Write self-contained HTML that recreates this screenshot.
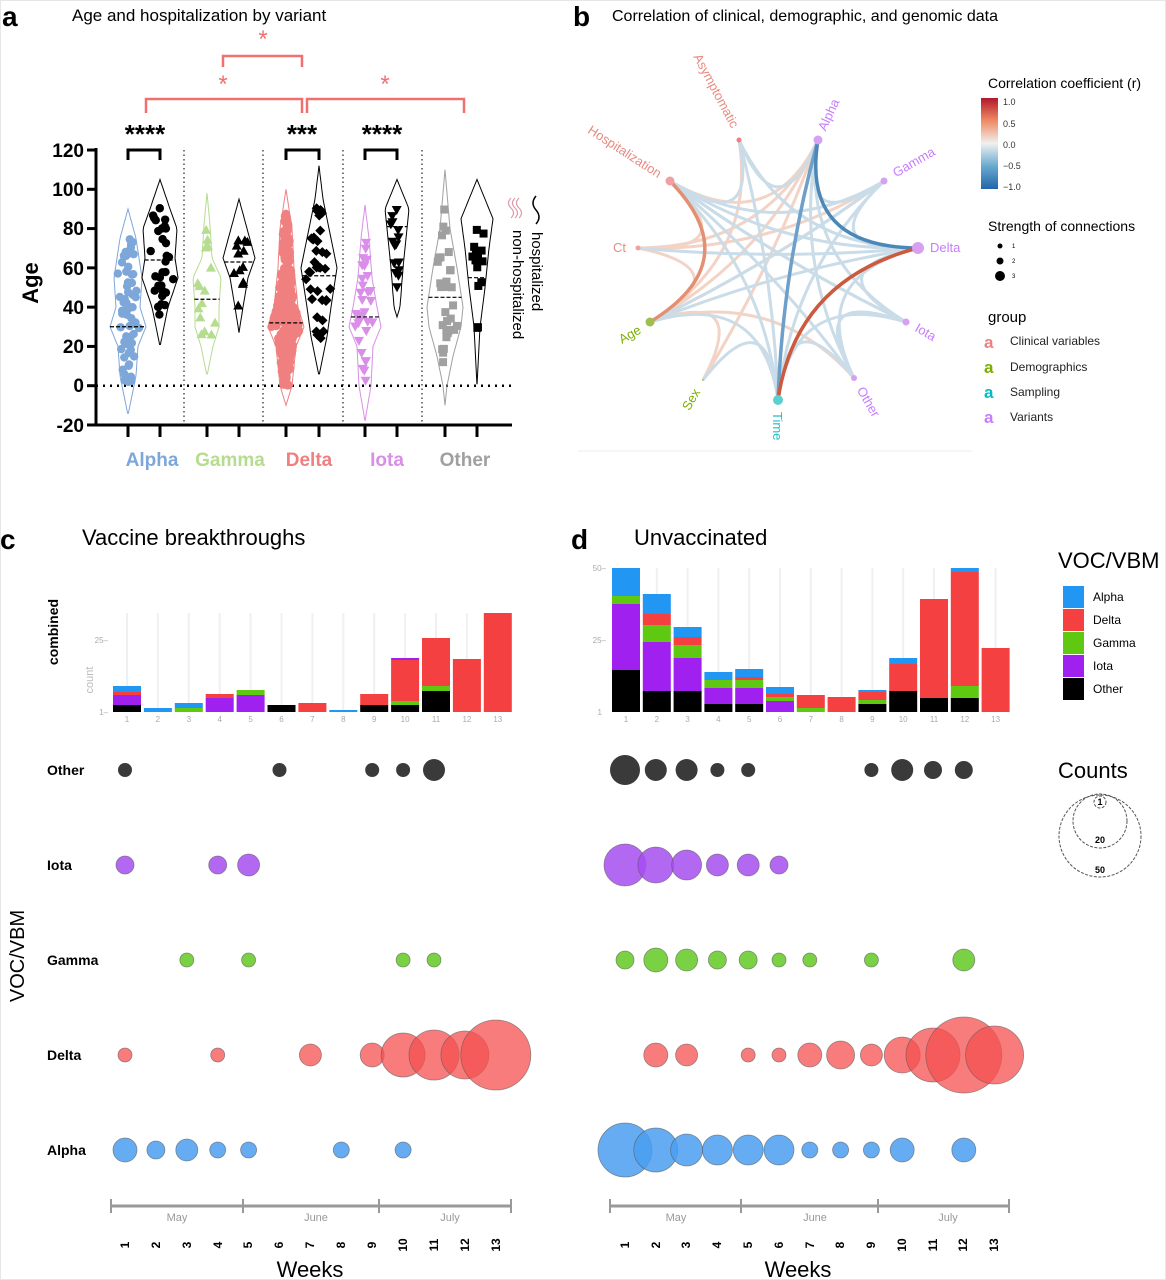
<!DOCTYPE html>
<html><head><meta charset="utf-8"><style>
html,body{margin:0;padding:0;background:#fff;}
svg{display:block;font-family:"Liberation Sans",Arial,sans-serif;}
</style></head><body>
<svg id="s" width="1166" height="1280" viewBox="0 0 1166 1280" xmlns="http://www.w3.org/2000/svg">
<rect x="0" y="0" width="1166" height="1280" fill="#fff"/>
<rect x="0.5" y="0.5" width="1165" height="1279" fill="none" stroke="#e6e6e6"/>
<g id="gA"></g>
<g id="gB"></g>
<g id="gC"></g>
<!-- Panel a text -->
<text x="2" y="26" font-size="28" font-weight="bold">a</text>
<text x="72" y="21" font-size="17">Age and hospitalization by variant</text>
<g font-size="19" font-weight="bold" text-anchor="end">
<text x="84" y="157">120</text><text x="84" y="196">100</text><text x="84" y="235">80</text><text x="84" y="275">60</text><text x="84" y="314">40</text><text x="84" y="353">20</text><text x="84" y="392">0</text><text x="84" y="432">-20</text>
</g>
<text transform="translate(38,283) rotate(-90)" font-size="22" font-weight="bold" text-anchor="middle">Age</text>
<g font-size="19" font-weight="bold" text-anchor="middle">
<text x="152" y="466" fill="#7da7d9">Alpha</text>
<text x="230" y="466" fill="#b5dc8f">Gamma</text>
<text x="309" y="466" fill="#f08080">Delta</text>
<text x="387" y="466" fill="#d98ee8">Iota</text>
<text x="465" y="466" fill="#a0a0a0">Other</text>
</g>
<g font-size="26" font-weight="bold" text-anchor="middle">
<text x="145" y="143">****</text><text x="302" y="143">***</text><text x="382" y="143">****</text>
</g>
<g font-size="24" fill="#f07070" text-anchor="middle">
<text x="263" y="47">*</text><text x="223" y="92">*</text><text x="385" y="92">*</text>
</g>
<text transform="translate(532,232) rotate(90)" font-size="15">hospitalized</text>
<text transform="translate(513,230) rotate(90)" font-size="15">non-hospitalized</text>

<!-- Panel b text -->
<text x="573" y="26" font-size="28" font-weight="bold">b</text>
<text x="612" y="21" font-size="16">Correlation of clinical, demographic, and genomic data</text>
<g font-size="13">
<text transform="translate(735,127) rotate(62)" text-anchor="end" fill="#e88a80" dy="4">Asymptomatic</text>
<text transform="translate(660,175) rotate(33)" text-anchor="end" fill="#e88a80" dy="4">Hospitalization</text>
<text x="626" y="252" text-anchor="end" fill="#e88a80">Ct</text>
<text transform="translate(640,329) rotate(-30)" text-anchor="end" fill="#7cae00" dy="4">Age</text>
<text transform="translate(697,390) rotate(-60)" text-anchor="end" fill="#7cae00" dy="4">Sex</text>
<text transform="translate(773,412) rotate(90)" text-anchor="start" fill="#22c0c4">Time</text>
<text transform="translate(860,388) rotate(60)" text-anchor="start" fill="#c77cff" dy="4">Other</text>
<text transform="translate(916,327) rotate(30)" text-anchor="start" fill="#c77cff" dy="4">Iota</text>
<text x="930" y="252" text-anchor="start" fill="#c77cff">Delta</text>
<text transform="translate(894,174) rotate(-30)" text-anchor="start" fill="#c77cff" dy="4">Gamma</text>
<text transform="translate(822,130) rotate(-65)" text-anchor="start" fill="#c77cff" dy="4">Alpha</text>
</g>
<text x="988" y="88" font-size="14">Correlation coefficient (r)</text>
<defs><linearGradient id="cb" x1="0" y1="0" x2="0" y2="1">
<stop offset="0" stop-color="#b2182b"/><stop offset="0.25" stop-color="#ef8a62"/><stop offset="0.5" stop-color="#f0f0f0"/><stop offset="0.75" stop-color="#67a9cf"/><stop offset="1" stop-color="#2166ac"/></linearGradient></defs>
<rect x="981" y="98" width="17" height="91" fill="url(#cb)"/>
<g font-size="9" fill="#333"><text x="1003" y="105">1.0</text><text x="1003" y="127">0.5</text><text x="1003" y="148">0.0</text><text x="1003" y="169">−0.5</text><text x="1003" y="190">−1.0</text></g>
<text x="988" y="231" font-size="14">Strength of connections</text>
<circle cx="1000" cy="246" r="2.5" fill="#000"/><circle cx="1000" cy="261" r="3.5" fill="#000"/><circle cx="1000" cy="276" r="5" fill="#000"/>
<g font-size="6"><text x="1012" y="248">1</text><text x="1012" y="263">2</text><text x="1012" y="278">3</text></g>
<text x="988" y="322" font-size="15">group</text>
<g font-size="17" font-weight="bold"><text x="984" y="348" fill="#f08080">a</text><text x="984" y="373" fill="#7cae00">a</text><text x="984" y="398" fill="#00bfc4">a</text><text x="984" y="423" fill="#c77cff">a</text></g>
<g font-size="12" fill="#222"><text x="1010" y="345">Clinical variables</text><text x="1010" y="371">Demographics</text><text x="1010" y="396">Sampling</text><text x="1010" y="421">Variants</text></g>
<line x1="578" y1="451" x2="972" y2="451" stroke="#eee"/>

<!-- Panel c/d text -->
<text x="0" y="549" font-size="28" font-weight="bold">c</text>
<text x="82" y="545" font-size="22">Vaccine breakthroughs</text>
<text x="571" y="549" font-size="28" font-weight="bold">d</text>
<text x="634" y="545" font-size="22">Unvaccinated</text>
<text transform="translate(58,632) rotate(-90)" font-size="14" font-weight="bold" text-anchor="middle">combined</text>
<text transform="translate(93,680) rotate(-90)" font-size="11" fill="#bbb" text-anchor="middle">count</text>
<g font-size="8" fill="#aaa" text-anchor="end"><text x="108" y="643">25–</text><text x="108" y="715">1–</text>
<text x="606" y="571">50–</text><text x="606" y="643">25–</text><text x="602" y="715">1</text></g>
<text x="1058" y="568" font-size="22">VOC/VBM</text>
<g><rect x="1063" y="586" width="21" height="22" fill="#2196f3"/><rect x="1063" y="609" width="21" height="22" fill="#f44040"/><rect x="1063" y="632" width="21" height="22" fill="#5ec910"/><rect x="1063" y="655" width="21" height="22" fill="#a020f0"/><rect x="1063" y="678" width="21" height="22" fill="#000"/></g>
<g font-size="12"><text x="1093" y="601">Alpha</text><text x="1093" y="624">Delta</text><text x="1093" y="647">Gamma</text><text x="1093" y="670">Iota</text><text x="1093" y="693">Other</text></g>
<text x="1058" y="778" font-size="22">Counts</text>
<g fill="none" stroke="#555" stroke-dasharray="3,1.5"><circle cx="1100" cy="836" r="41"/><circle cx="1100" cy="821" r="27"/><circle cx="1100" cy="802" r="6"/></g>
<g font-size="9" font-weight="bold" text-anchor="middle"><text x="1100" y="805">1</text><text x="1100" y="843">20</text><text x="1100" y="873">50</text></g>
<g font-size="14" font-weight="bold"><text x="47" y="775">Other</text><text x="47" y="870">Iota</text><text x="47" y="965">Gamma</text><text x="47" y="1060">Delta</text><text x="47" y="1155">Alpha</text></g>
<text transform="translate(24,956) rotate(-90)" font-size="20" text-anchor="middle">VOC/VBM</text>
<g font-size="11" fill="#999" text-anchor="middle"><text x="177" y="1221">May</text><text x="316" y="1221">June</text><text x="450" y="1221">July</text>
<text x="676" y="1221">May</text><text x="815" y="1221">June</text><text x="948" y="1221">July</text></g>
<g font-size="12" font-weight="bold" text-anchor="middle">
<text transform="translate(129,1245) rotate(-90)">1</text><text transform="translate(160,1245) rotate(-90)">2</text><text transform="translate(191,1245) rotate(-90)">3</text><text transform="translate(222,1245) rotate(-90)">4</text><text transform="translate(252,1245) rotate(-90)">5</text><text transform="translate(283,1245) rotate(-90)">6</text><text transform="translate(314,1245) rotate(-90)">7</text><text transform="translate(345,1245) rotate(-90)">8</text><text transform="translate(376,1245) rotate(-90)">9</text><text transform="translate(407,1245) rotate(-90)">10</text><text transform="translate(438,1245) rotate(-90)">11</text><text transform="translate(469,1245) rotate(-90)">12</text><text transform="translate(500,1245) rotate(-90)">13</text>
<text transform="translate(629,1245) rotate(-90)">1</text><text transform="translate(660,1245) rotate(-90)">2</text><text transform="translate(690,1245) rotate(-90)">3</text><text transform="translate(721,1245) rotate(-90)">4</text><text transform="translate(752,1245) rotate(-90)">5</text><text transform="translate(783,1245) rotate(-90)">6</text><text transform="translate(814,1245) rotate(-90)">7</text><text transform="translate(844,1245) rotate(-90)">8</text><text transform="translate(875,1245) rotate(-90)">9</text><text transform="translate(906,1245) rotate(-90)">10</text><text transform="translate(937,1245) rotate(-90)">11</text><text transform="translate(967,1245) rotate(-90)">12</text><text transform="translate(998,1245) rotate(-90)">13</text>
</g>
<g font-size="22" text-anchor="middle"><text x="310" y="1277">Weeks</text><text x="798" y="1277">Weeks</text></g>
</svg>
<script>
var NS="http://www.w3.org/2000/svg";
function el(p,t,a){var e=document.createElementNS(NS,t);for(var k in a)e.setAttribute(k,a[k]);p.appendChild(e);return e;}
var A=document.getElementById("gA"),B=document.getElementById("gB"),C=document.getElementById("gC");
var seed=7;function rnd(){seed=(seed*16807)%2147483647;return seed/2147483647;}
function yA(v){return 385.7-v*1.964;}
[184,263,343,422].forEach(function(x){el(A,"line",{x1:x,y1:150,x2:x,y2:425,stroke:"#333","stroke-dasharray":"1.5,3","stroke-width":1.3});});
el(A,"line",{x1:96,y1:yA(0),x2:512,y2:yA(0),stroke:"#000","stroke-dasharray":"2,5","stroke-width":2.5});
var V=[
[128,"#7da7d9",[[90,0],[75,8],[55,14],[40,12],[30,18],[20,10],[5,8],[-15,0]],[0,75],"c",60,30],
[160,"#000",[[105,0],[90,10],[80,17],[65,15],[55,18],[40,8],[20,0]],[36,91],"c",30,64],
[207,"#b5dc8f",[[98,0],[82,3],[65,5],[55,14],[40,12],[30,12],[20,6],[5,0]],[23,82],"t",15,44],
[239,"#000",[[95,0],[80,8],[65,16],[55,9],[40,4],[27,0]],[39,82],"t",12,63],
[286,"#f08080",[[100,0],[80,6],[60,8],[40,12],[30,18],[20,10],[0,6],[-10,0]],[0,88],"c",300,32],
[319,"#000",[[112,0],[95,4],[80,10],[60,18],[40,12],[25,8],[5,0]],[22,96],"d",35,56],
[365,"#d98ee8",[[92,0],[75,4],[55,7],[40,12],[30,16],[20,8],[0,6],[-18,0]],[1,75],"v",30,35],
[397,"#000",[[105,0],[90,12],[80,10],[60,6],[40,3],[35,0]],[50,90],"v",15,81],
[445,"#a0a0a0",[[110,0],[80,5],[60,12],[40,18],[30,16],[15,8],[0,2],[-10,0]],[10,90],"s",30,45],
[477,"#000",[[105,0],[85,16],[70,12],[50,8],[30,3],[0,0]],[23,83],"s",14,55]];
function hw(p,v){for(var i=0;i<p.length-1;i++){if(v<=p[i][0]&&v>=p[i+1][0]){var t=(p[i][0]-v)/(p[i][0]-p[i+1][0]);return p[i][1]+(p[i+1][1]-p[i][1])*t;}}return 0;}
V.forEach(function(o){var x=o[0],c=o[1],p=o[2],L=[],R=[];
 for(var v=p[0][0];v>=p[p.length-1][0];v-=2){var w=hw(p,v);L.push((x-w).toFixed(1)+","+yA(v).toFixed(1));R.unshift((x+w).toFixed(1)+","+yA(v).toFixed(1));}
 el(A,"polygon",{points:L.concat(R).join(" "),fill:"none",stroke:c,"stroke-width":1});
 var n=o[5],lo=o[3][0],hi=o[3][1];
 for(var i=0;i<n;i++){var v,w;do{v=lo+rnd()*(hi-lo);w=hw(p,v);}while(rnd()*20>w+2);
  var px=x+(rnd()*2-1)*Math.max(w-3,1),py=yA(v),r=4.2;
  if(o[4]=="c")el(A,"circle",{cx:px,cy:py,r:r,fill:c});
  else if(o[4]=="t")el(A,"polygon",{points:(px)+","+(py-5)+" "+(px-5)+","+(py+4)+" "+(px+5)+","+(py+4),fill:c});
  else if(o[4]=="v")el(A,"polygon",{points:(px)+","+(py+5)+" "+(px-5)+","+(py-4)+" "+(px+5)+","+(py-4),fill:c});
  else if(o[4]=="d")el(A,"polygon",{points:px+","+(py-5)+" "+(px+5)+","+py+" "+px+","+(py+5)+" "+(px-5)+","+py,fill:c});
  else el(A,"rect",{x:px-4,y:py-4,width:8,height:8,fill:c});}
 var m=o[6],mw=hw(p,m);el(A,"line",{x1:x-mw,y1:yA(m),x2:x+mw,y2:yA(m),stroke:"#000","stroke-dasharray":"4,2","stroke-width":1.2});
});
el(A,"line",{x1:96,y1:148,x2:96,y2:426,stroke:"#000","stroke-width":3});
el(A,"line",{x1:95,y1:425,x2:512,y2:425,stroke:"#000","stroke-width":3});
[120,100,80,60,40,20,0,-20].forEach(function(v){el(A,"line",{x1:87,y1:yA(v),x2:96,y2:yA(v),stroke:"#000","stroke-width":3});});
[128,160,207,239,286,319,365,397,445,477].forEach(function(x){el(A,"line",{x1:x,y1:425,x2:x,y2:437,stroke:"#000","stroke-width":3});});
[[128,160],[286,319],[365,397]].forEach(function(b){el(A,"polyline",{points:b[0]+",160 "+b[0]+",150 "+b[1]+",150 "+b[1]+",160",fill:"none",stroke:"#000","stroke-width":3});});
el(A,"polyline",{points:"223,67 223,56 302,56 302,67",fill:"none",stroke:"#f07070","stroke-width":2.5});
el(A,"polyline",{points:"146,113 146,99 302,99 302,113",fill:"none",stroke:"#f07070","stroke-width":2.5});
el(A,"polyline",{points:"307,113 307,99 464,99 464,113",fill:"none",stroke:"#f07070","stroke-width":2.5});
el(A,"path",{d:"M511,198 q-5,5 0,10 q5,5 0,10 M515,198 q-5,5 0,10 q5,5 0,10 M519,198 q-5,5 0,10 q5,5 0,10",fill:"none",stroke:"#d9a","stroke-width":1.2});
el(A,"path",{d:"M536,196 q-6,7 0,14 q6,7 0,14",fill:"none",stroke:"#000","stroke-width":1.5});

var N={As:[739,140],Al:[818,140],Ga:[884,181],De:[918,248],Io:[906,322],Ot:[854,378],Ti:[778,400],Se:[703,380],Ag:[650,322],Ct:[638,248],Ho:[670,181]};
var cx=778,cy=265;
var E=[["As","Ho","b"],["As","Ti","b"],["As","Ag","p"],["As","De","b"],["As","Al","b"],["Al","Ga","b"],["Al","Ct","p"],["Al","Ag","p"],["Al","Ti","B"],["Al","De","D"],["Al","Io","b"],["Ga","De","b"],["Ga","Ag","p"],["Ga","Ti","b"],["Ga","Ho","b"],["De","Io","b"],["De","Ot","b"],["De","Ti","R"],["De","Ct","b"],["De","Ag","b"],["De","Ho","b"],["Io","Ot","b"],["Io","Ti","b"],["Io","Ho","b"],["Ot","Ti","b"],["Ot","Ag","p"],["Ot","Al","b"],["Ti","Ag","b"],["Ti","Ho","b"],["Ti","Se","b"],["Se","Ag","p"],["Se","Al","p"],["Ag","Ct","p"],["Ag","Ho","O"],["Ag","Ga","b"],["Ct","Ho","p"],["Ct","Ga","p"],["Ho","Io","b"],["Ho","Al","p"],["Ho","Ot","b"]];
var col={b:"#c9dce8",p:"#f2d3c5",B:"#6d9fc8",D:"#4b88b8",R:"#cc5a3e",O:"#e39072"};
E.sort(function(a,b){return "bp".indexOf(b[2])-"bp".indexOf(a[2]);});
E.forEach(function(e){var a=N[e[0]],b=N[e[1]];var mx=(a[0]+b[0])/2,my=(a[1]+b[1])/2;var k=0.75;var qx=mx+(cx-mx)*k,qy=my+(cy-my)*k;
 el(B,"path",{d:"M"+a[0]+","+a[1]+" Q"+qx+","+qy+" "+b[0]+","+b[1],fill:"none",stroke:col[e[2]],"stroke-width":(e[2]=="b"||e[2]=="p")?3:3.5});});
var NC={As:["#f08080",2.5],Al:["#d7a0f0",4.5],Ga:["#d7a0f0",3.5],De:["#d7a0f0",6],Io:["#d7a0f0",3.5],Ot:["#d7a0f0",3],Ti:["#5cd0d0",5],Se:["#a8c860",1],Ag:["#9bc050",4.5],Ct:["#f0a0a0",2.5],Ho:["#f0a0a0",4.5]};
for(var k in N)el(B,"circle",{cx:N[k][0],cy:N[k][1],r:NC[k][1],fill:NC[k][0]});

var CL={b:"#2196f3",r:"#f44040",g:"#5ec910",p:"#a020f0",k:"#000"};
function bars(x0,step,top,data){
 for(var i=0;i<13;i++)el(C,"line",{x1:x0+i*step,y1:top,x2:x0+i*step,y2:712,stroke:"#f0f0f0","stroke-width":2});
 data.forEach(function(st,i){var x=x0+i*step-14,y=712;st.forEach(function(s){el(C,"rect",{x:x,y:s[1],width:28,height:y-s[1],fill:CL[s[0]]});y=s[1];});
  el(C,"text",{x:x0+i*step,y:722,"font-size":8,fill:"#aaa","text-anchor":"middle"}).textContent=""+(i+1);});
}
bars(127,30.9,613,[[["k",705],["p",695],["r",692],["b",686]],[["b",708]],[["g",708],["b",703]],[["p",698],["r",694]],[["p",695],["g",690]],[["k",705]],[["r",703]],[["b",710]],[["k",705],["r",694]],[["k",705],["g",701],["r",660],["p",658]],[["k",691],["g",686],["r",638]],[["r",659]],[["r",613]]]);
bars(626,30.8,568,[[["k",670],["p",604],["g",596],["b",568]],[["k",691],["p",642],["g",625],["r",614],["b",594]],[["k",691],["p",658],["g",645],["r",637],["b",627]],[["k",704],["p",688],["g",680],["b",672]],[["k",704],["p",688],["g",680],["r",677],["b",669]],[["p",701],["g",697],["r",694],["b",687]],[["g",708],["r",695]],[["r",697]],[["k",704],["g",700],["r",692],["b",690]],[["k",691],["r",664],["b",658]],[["k",698],["r",599]],[["k",698],["g",686],["r",572],["b",568]],[["r",648]]]);
var BC={o:["#3a3a3a",1],i:["#a64df0",0.85],g:["#6ccc30",0.9],d:["#f55050",0.75],a:["#4a9ef0",0.85]};
var RY={o:770,i:865,g:960,d:1055,a:1150};
function bub(x0,step,rows){for(var k in rows)rows[k].forEach(function(b){el(C,"circle",{cx:x0+(b[0]-1)*step,cy:RY[k],r:b[1],fill:BC[k][0],"fill-opacity":BC[k][1],stroke:k=="o"?"none":"#555","stroke-opacity":0.6,"stroke-width":0.8});});}
bub(125,30.9,{o:[[1,7],[6,7],[9,7],[10,7],[11,11]],i:[[1,9],[4,9],[5,11]],g:[[3,7],[5,7],[10,7],[11,7]],d:[[1,7],[4,7],[7,11],[9,12],[10,22],[11,25],[12,24],[13,35]],a:[[1,12],[2,9],[3,11],[4,8],[5,8],[8,8],[10,8]]});
bub(625,30.8,{o:[[1,15],[2,11],[3,11],[4,7],[5,7],[9,7],[10,11],[11,9],[12,9]],i:[[1,21],[2,18],[3,15],[4,11],[5,11],[6,9]],g:[[1,9],[2,12],[3,11],[4,9],[5,9],[6,7],[7,7],[9,7],[12,11]],d:[[2,12],[3,11],[5,7],[6,7],[7,12],[8,14],[9,11],[10,18],[11,27],[12,38],[13,29]],a:[[1,27],[2,22],[3,16],[4,15],[5,15],[6,15],[7,8],[8,8],[9,8],[10,12],[12,12]]});
function tl(xs){el(C,"line",{x1:xs[0],y1:1206,x2:xs[3],y2:1206,stroke:"#999","stroke-width":3});xs.forEach(function(x){el(C,"line",{x1:x,y1:1199,x2:x,y2:1213,stroke:"#999","stroke-width":2});});}
tl([111,243,379,511]);tl([610,741,878,1009]);
</script>
</body></html>
